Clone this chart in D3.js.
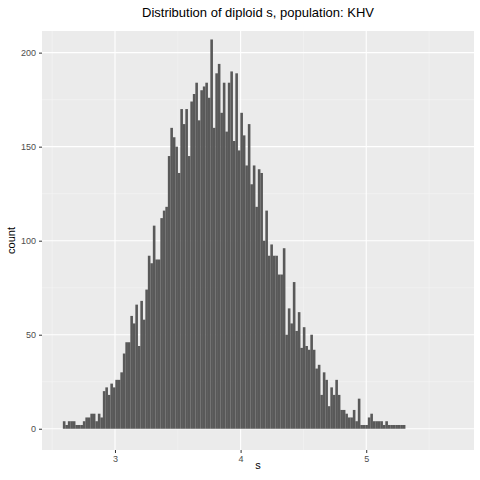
<!DOCTYPE html>
<html>
<head>
<meta charset="utf-8">
<script src="https://cdn.jsdelivr.net/npm/d3@7"></script>
<style>
body { margin: 0; background: #fff; }
text { font-family: "Liberation Sans", Arial, sans-serif; }
</style>
</head>
<body>
<svg width="480" height="480"></svg>
<script>
// histogram of s, bins of ~0.02 starting at 2.585
let binStart = 2.585, binWidth = 0.0199;
let counts = [4,0,0,2,0,0,0,4,0,0,0,4,4,2,2,2,4,6,0,6,8,8,4,8,6,20,22,18,24,22,26,26,30,40,46,46,60,56,66,44,68,
  58,74,92,88,108,90,90,112,116,118,145,160,155,150,136,170,162,170,145,174,178,184,
  164,180,182,184,176,207,160,189,194,168,184,158,184,190,153,189,148,168,156,140,162,130,
  140,118,138,136,100,116,92,98,92,92,82,82,96,50,64,56,78,52,62,43,54,44,
  42,50,42,32,34,18,30,26,12,22,18,26,18,10,10,8,6,6,10,4,16,2,2,0,2,6,8,4,4,4,4,2,4,2,2,2,0,2,0,0,2,0,0,0,0,2,0,2];
let xTicks = [3, 4, 5];
let yTicks = [0, 50, 100, 150, 200];

var svg = d3.select('svg');
var pLeft = 42, pRight = 474, pTop = 31, pBottom = 450;

var x = d3.scaleLinear().domain([2.419, 5.858]).range([pLeft, pRight]);
var y = d3.scaleLinear().domain([-11.3, 211.5]).range([pBottom, pTop]);

svg.append("rect").attr("x", pLeft).attr("y", pTop)
   .attr("width", pRight - pLeft).attr("height", pBottom - pTop).attr("fill", "#ebebeb");

// minor grid
svg.selectAll(".minx").data([2.5, 3.5, 4.5, 5.5]).enter().append("line")
   .attr("x1", d => x(d)).attr("x2", d => x(d)).attr("y1", pTop).attr("y2", pBottom)
   .attr("stroke", "#f5f5f5").attr("stroke-width", 0.6);
svg.selectAll(".miny").data([25, 75, 125, 175]).enter().append("line")
   .attr("y1", d => y(d)).attr("y2", d => y(d)).attr("x1", pLeft).attr("x2", pRight)
   .attr("stroke", "#f5f5f5").attr("stroke-width", 0.6);
// major grid
svg.selectAll(".majx").data(xTicks).enter().append("line")
   .attr("x1", d => x(d)).attr("x2", d => x(d)).attr("y1", pTop).attr("y2", pBottom)
   .attr("stroke", "#fff").attr("stroke-width", 1.1);
svg.selectAll(".majy").data(yTicks).enter().append("line")
   .attr("y1", d => y(d)).attr("y2", d => y(d)).attr("x1", pLeft).attr("x2", pRight)
   .attr("stroke", "#fff").attr("stroke-width", 1.1);

svg.selectAll(".bar").data(counts).enter().append("rect")
   .filter(d => d > 0)
   .attr("x", (d, i) => x(binStart + i * binWidth))
   .attr("width", (d, i) => x(binStart + (i + 1) * binWidth) - x(binStart + i * binWidth) + 0.1)
   .attr("y", d => y(d))
   .attr("height", d => y(0) - y(d))
   .attr("fill", "#595959");

// axes
var xAxis = svg.append("g").attr("transform", `translate(0,${pBottom})`)
   .call(d3.axisBottom(x).tickValues(xTicks).tickFormat(d3.format("d")).tickSize(3).tickPadding(3));
var yAxis = svg.append("g").attr("transform", `translate(${pLeft},0)`)
   .call(d3.axisLeft(y).tickValues(yTicks).tickFormat(d3.format("d")).tickSize(3).tickPadding(3));
[xAxis, yAxis].forEach(g => {
  g.select(".domain").remove();
  g.selectAll("line").attr("stroke", "#333");
  g.selectAll("text").attr("fill", "#4d4d4d").style("font-size", "9px");
});

svg.append("text").attr("x", (pLeft + pRight) / 2).attr("y", 469)
   .attr("text-anchor", "middle").style("font-size", "11px").text("s");
svg.append("text").attr("transform", `translate(15,${(pTop + pBottom) / 2}) rotate(-90)`)
   .attr("text-anchor", "middle").style("font-size", "11px").text("count");
svg.append("text").attr("x", (pLeft + pRight) / 2).attr("y", 17)
   .attr("text-anchor", "middle").style("font-size", "13px")
   .text("Distribution of diploid s, population: KHV");
</script>
</body>
</html>
